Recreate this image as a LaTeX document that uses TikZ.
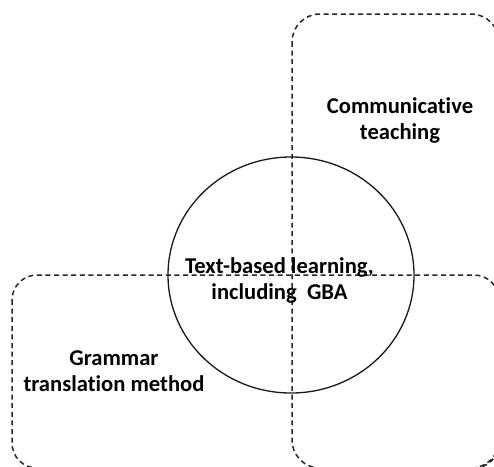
\documentclass[tikz,border=0pt]{standalone}
\usepackage{fontspec}
\setmainfont[Ligatures=NoCommon]{Carlito}
\tikzset{
  zone/.style={draw=black!85, line width=1.5pt, dash pattern=on 5pt off 3.6pt},
  ring/.style={draw=black!90, line width=1.3pt},
  lbl/.style={align=center, inner sep=0pt, font=\bfseries\fontsize{22.6}{26}\selectfont, text=black}
}
\begin{document}
\begin{tikzpicture}[x=1pt,y=-1pt]
\useasboundingbox (0,0) rectangle (494,466);
\clip (0,0) rectangle (494,466);
\fill[white] (0,0) rectangle (494,466);
\draw[zone, rounded corners=28pt] (292,14) rectangle (499,468);
\draw[zone, rounded corners=25pt] (12,275) rectangle (499,468);
\draw[ring] (291,275) ellipse [x radius=123, y radius=118];
\node[lbl] (comm) at (400,120) {Communicative\\teaching};
\node[lbl] (tbl) at (279.5,280.5) {Text-based learning,\\including\ \ GBA};
\node[lbl] (gtm) at (114,371.5) {Grammar\\translation method};
\end{tikzpicture}
\end{document}
